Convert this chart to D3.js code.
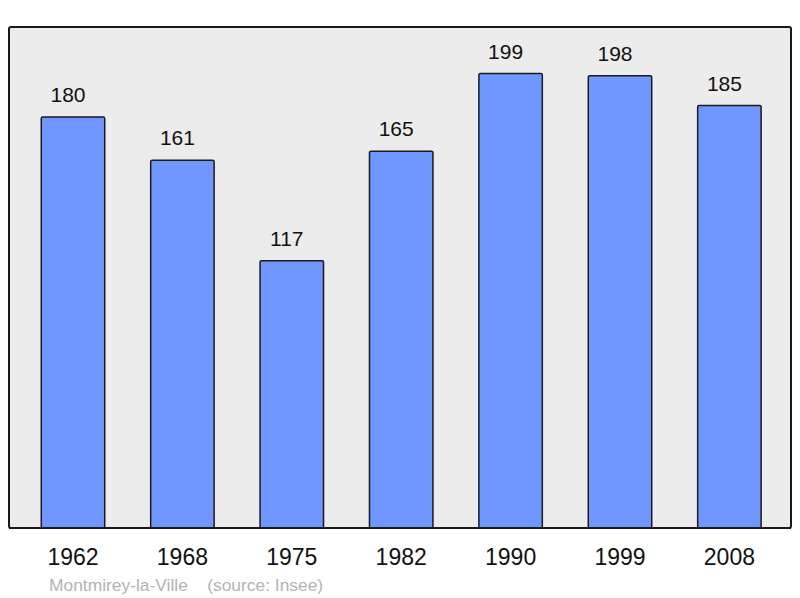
<!DOCTYPE html>
<html><head><meta charset="utf-8">
<script src="https://cdn.jsdelivr.net/npm/d3@7"></script>
<style>body{margin:0;background:#fff}svg{display:block}</style>
</head><body>
<svg id="c" width="800" height="598"></svg>
<script>
const years = ["1962","1968","1975","1982","1990","1999","2008"];
const population = [180,161,117,165,199,198,185];
const footer = "Montmirey-la-Ville    (source: Insee)";

const svg = d3.select("#c");
const font = "'Liberation Sans', Arial, sans-serif";
const panel = {x:9, y:27, w:782, h:501};
svg.append("rect").attr("x",panel.x).attr("y",panel.y).attr("width",panel.w).attr("height",panel.h)
  .attr("rx",2).attr("fill","#ececec").attr("stroke","#1a1a1a").attr("stroke-width",2);

const x = d3.scaleBand().domain(years).range([18.3,784.1]).paddingInner(0.42).paddingOuter(0.21);
const y = d3.scaleLinear().domain([0,219.4]).range([528,27]);

svg.selectAll("rect.bar").data(population).join("rect").attr("class","bar")
  .attr("x",(d,i)=>x(years[i])).attr("width",x.bandwidth())
  .attr("y",d=>y(d)).attr("height",d=>y(0)-y(d)).attr("rx",1.5)
  .attr("fill","#7097ff").attr("stroke","#1a1a1a").attr("stroke-width",1.5);

svg.selectAll("text.val").data(population).join("text").attr("class","val")
  .attr("x",(d,i)=>x(years[i])+x.bandwidth()/2-5).attr("y",d=>y(d)-15)
  .attr("text-anchor","middle").attr("font-family",font).attr("font-size",21).attr("fill","#111")
  .text(d=>d);

svg.append("line").attr("x1",panel.x).attr("x2",panel.x+panel.w).attr("y1",528).attr("y2",528)
  .attr("stroke","#1a1a1a").attr("stroke-width",2);

const xAxis = d3.axisBottom(x).tickSize(0).tickPadding(0);
const g = svg.append("g").attr("transform","translate(0,528)").call(xAxis);
g.select(".domain").remove();
g.selectAll("text").attr("font-family",font).attr("font-size",23).attr("fill","#111")
  .attr("dy",null).attr("y",37);

svg.append("text").attr("x",49).attr("y",591).attr("font-family",font).attr("font-size",17.4)
  .attr("fill","#b3b3b3").attr("xml:space","preserve").style("white-space","pre").text(footer);
</script>
</body></html>
